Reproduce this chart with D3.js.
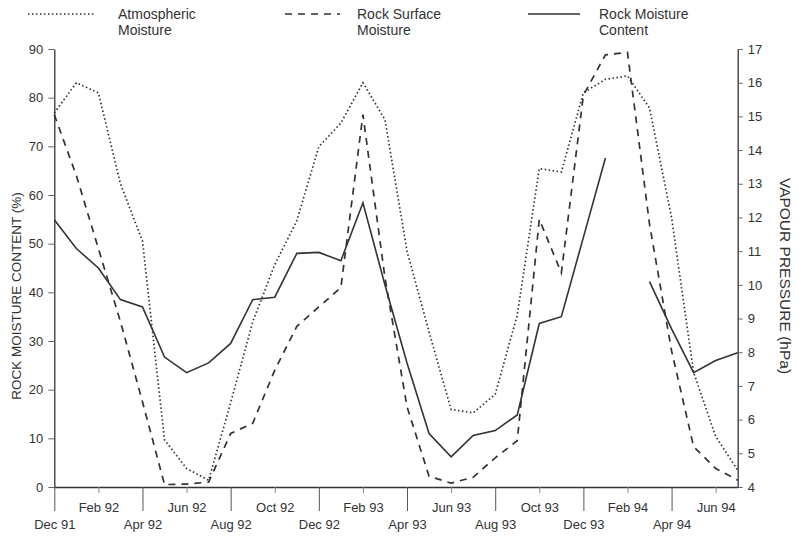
<!DOCTYPE html>
<html>
<head>
<meta charset="utf-8">
<script src="https://cdn.jsdelivr.net/npm/d3@7/dist/d3.min.js"></script>
<style>
  html, body { margin: 0; padding: 0; background: #fff; }
  svg { display: block; font-family: "Liberation Sans", Arial, Helvetica, sans-serif; }
  text { fill: #333; }
</style>
</head>
<body>
<svg id="chart" width="799" height="539"></svg>
<script>
// Months (Dec 91 .. Jul 94)
const months = ["Dec 91","Jan 92","Feb 92","Mar 92","Apr 92","May 92","Jun 92","Jul 92","Aug 92","Sep 92","Oct 92","Nov 92",
  "Dec 92","Jan 93","Feb 93","Mar 93","Apr 93","May 93","Jun 93","Jul 93","Aug 93","Sep 93","Oct 93","Nov 93",
  "Dec 93","Jan 94","Feb 94","Mar 94","Apr 94","May 94","Jun 94","Jul 94"];

// Atmospheric moisture — vapour pressure (hPa), right axis
const atmospheric = [15.1, 16.0, 15.7, 13.0, 11.3, 5.4, 4.55, 4.2, 6.5, 8.9, 10.6, 11.9,
  14.1, 14.8, 16.0, 14.9, 11.0, 8.6, 6.3, 6.2, 6.75, 9.1, 13.45, 13.35,
  15.7, 16.1, 16.2, 15.25, 12.0, 7.4, 5.5, 4.5];

// Rock surface moisture (%), left axis
const rockSurface = [76.5, 64, 49, 34, 17.5, 0.5, 0.6, 1.0, 11.0, 13.1, 24.0, 33.0,
  37.0, 41.0, 76.5, 43.0, 16.5, 2.2, 0.8, 2.0, 6.0, 9.5, 55.0, 44.0,
  80.5, 88.8, 89.3, 54.0, 28.0, 8.3, 3.8, 1.4];

// Rock moisture content (%), left axis (no value for Feb 94)
const rockContent = [54.9, 49.0, 45.0, 38.5, 37.0, 26.7, 23.5, 25.5, 29.5, 38.5, 39.0, 48.0,
  48.2, 46.5, 58.4, 41.5, 25.5, 11.0, 6.2, 10.6, 11.6, 14.8, 33.6, 35.0,
  51.3, 67.6, null, 42.2, 32.5, 23.5, 26.0, 27.6];

const leftTicks = [0, 10, 20, 30, 40, 50, 60, 70, 80, 90];
const rightTicks = [4, 5, 6, 7, 8, 9, 10, 11, 12, 13, 14, 15, 16, 17];
const xTickIndex = [0, 2, 4, 6, 8, 10, 12, 14, 16, 18, 20, 22, 24, 26, 28, 30];

const legendItems = [
  { lines: ["Atmospheric", "Moisture"], dash: "1.5,2.5" },
  { lines: ["Rock Surface", "Moisture"], dash: "7,6" },
  { lines: ["Rock Moisture", "Content"], dash: null }
];

(function () {
const svg = d3.select("#chart");
const pLeft = 54.3, pRight = 737.7, pTop = 49, pBottom = 487;
const ink = "#333";

const x = d3.scaleLinear().domain([0, months.length - 1]).range([pLeft, pRight]);
const yL = d3.scaleLinear().domain([0, 90]).range([pBottom, pTop]);
const yR = d3.scaleLinear().domain([4, 17]).range([pBottom, pTop]);

const gL = svg.append("g").attr("transform", `translate(${pLeft},0)`)
  .call(d3.axisLeft(yL).tickValues(leftTicks).tickSize(6).tickSizeOuter(0).tickPadding(5));
const gR = svg.append("g").attr("transform", `translate(${pRight},0)`)
  .call(d3.axisRight(yR).tickValues(rightTicks).tickSize(5).tickSizeOuter(0).tickPadding(5));
const gB = svg.append("g").attr("transform", `translate(0,${pBottom})`)
  .call(d3.axisBottom(x).tickValues(xTickIndex).tickFormat(i => months[i]).tickSizeOuter(0));

[gL, gR, gB].forEach(g => {
  g.selectAll("path.domain").attr("stroke", ink).attr("stroke-width", 1.3);
  g.selectAll(".tick line").attr("stroke", "#666").attr("stroke-width", 1);
  g.selectAll(".tick text").style("font-size", "13px").style("fill", ink)
    .style("font-family", '"Liberation Sans", Arial, Helvetica, sans-serif');
});
gB.selectAll(".tick").each(function(d, i) {
  const lower = (i % 2 === 0);
  d3.select(this).select("line").attr("y2", lower ? 24 : 6).attr("stroke", lower ? "#555" : "#888");
  d3.select(this).select("text").attr("y", lower ? 33 : 16);
});

svg.append("text")
  .attr("transform", `translate(21,${(pTop + pBottom) / 2 + 28}) rotate(-90)`)
  .attr("text-anchor", "middle").style("font-size", "13.5px")
  .text("ROCK MOISTURE CONTENT (%)");
svg.append("text")
  .attr("transform", `translate(780,${(pTop + pBottom) / 2 + 8}) rotate(90)`)
  .attr("text-anchor", "middle").style("font-size", "15.5px")
  .text("VAPOUR PRESSURE (hPa)");

const idx = d3.range(months.length);
const lineL = arr => d3.line().defined(i => arr[i] != null).x(i => x(i)).y(i => yL(arr[i]))(idx);
const lineR = arr => d3.line().defined(i => arr[i] != null).x(i => x(i)).y(i => yR(arr[i]))(idx);

svg.append("path").attr("d", lineR(atmospheric))
  .attr("fill", "none").attr("stroke", ink).attr("stroke-width", 1.7)
  .attr("stroke-dasharray", "1.5,2.5");
svg.append("path").attr("d", lineL(rockSurface))
  .attr("fill", "none").attr("stroke", ink).attr("stroke-width", 1.7)
  .attr("stroke-dasharray", "7,6");
svg.append("path").attr("d", lineL(rockContent))
  .attr("fill", "none").attr("stroke", ink).attr("stroke-width", 1.6);

const legendX = [[28, 96, 118], [285, 340, 357], [528, 580, 599]];
legendItems.forEach((it, k) => {
  const [x1, x2, tx] = legendX[k];
  const ln = svg.append("line").attr("x1", x1).attr("x2", x2).attr("y1", 14).attr("y2", 14)
    .attr("stroke", ink).attr("stroke-width", 1.5);
  if (it.dash) ln.attr("stroke-dasharray", it.dash);
  it.lines.forEach((t, j) => {
    svg.append("text").attr("x", tx).attr("y", 19 + j * 16).style("font-size", "14px").text(t);
  });
});
})();
</script>
</body>
</html>
